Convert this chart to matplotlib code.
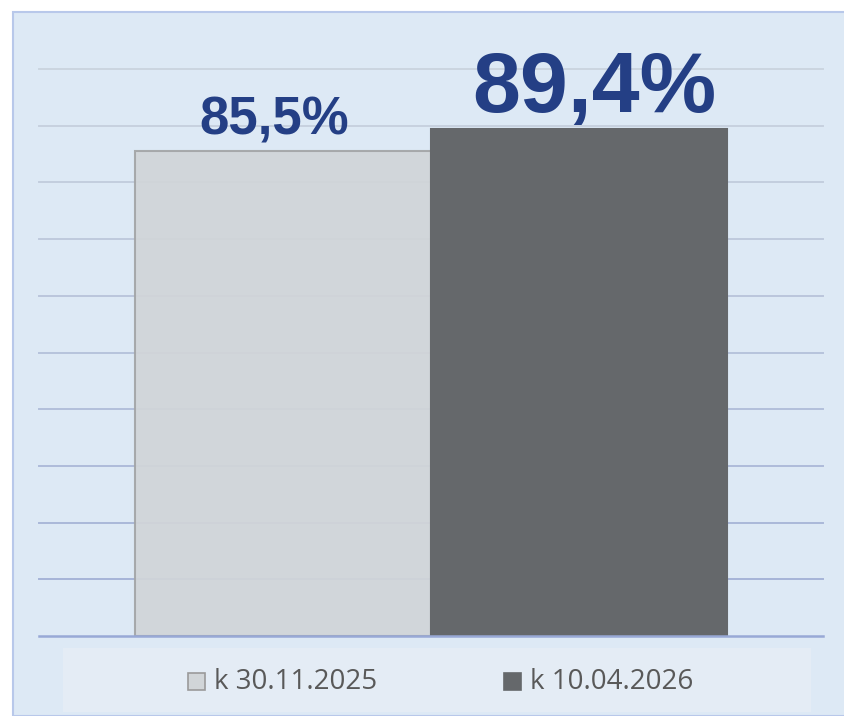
import matplotlib.pyplot as plt
import matplotlib.patches as mpatches
import numpy as np

#----Data

series = ["k 30.11.2025", "k 10.04.2026"]
values = [85.5, 89.4]
labels = ["85,5%", "89,4%"]
grid_levels = [10, 20, 30, 40, 50, 60, 70, 80, 90, 100]

#----Styles

bar_colors = ["#d1d5d8", "#65686b"]
bar_edges = ["#a3a5a7", "#65686b"]
bar_alpha = [0.93, 1.0]
label_sizes = [38, 62]
label_dx = [-9, 15]
label_dy = [17, 17]
panel_bg = "#dde9f5"
label_color = "#243f85"


def lerp_color(c1, c2, t):
    a = np.array([int(c1[i:i + 2], 16) for i in (1, 3, 5)])
    b = np.array([int(c2[i:i + 2], 16) for i in (1, 3, 5)])
    c = (a + (b - a) * t) / 255.0
    return tuple(c)


W, H = 845, 716
fig = plt.figure(figsize=(W / 100, H / 100), dpi=100)
fig.patch.set_facecolor("white")

# chart panel with border
panel = mpatches.Rectangle((13 / W, 0), 1.0, (H - 12) / H, transform=fig.transFigure,
                           facecolor=panel_bg, edgecolor="#b8c8ea", linewidth=1.5, zorder=-2)
fig.patches.append(panel)

# legend area
leg_bg = mpatches.Rectangle((63 / W, (H - 712) / H), (811 - 63) / W, (712 - 648) / H,
                            transform=fig.transFigure, facecolor="#e4ecf5",
                            edgecolor="none", zorder=-1)
fig.patches.append(leg_bg)

ax = fig.add_axes([39 / W, (H - 636) / H, (823 - 39) / W, (636 - 69) / H])
ax.set_facecolor("none")
ax.set_xlim(-0.5, 0.5)
ax.set_ylim(0, 100)

# gridlines fading from blue (bottom) to grey (top)
for i, g in enumerate(grid_levels):
    t = i / (len(grid_levels) - 1)
    ax.axhline(g, color=lerp_color("#a6b4d8", "#cbd5e0", t), linewidth=1.4,
               zorder=1, clip_on=False)
ax.axhline(0, color="#98a9d6", linewidth=1.8, zorder=4, clip_on=False)

width = 0.378
xs = [-width / 2, width / 2]
for x, v, fc, ec, al in zip(xs, values, bar_colors, bar_edges, bar_alpha):
    ax.bar(x, v, width, color=fc, edgecolor=ec, linewidth=1.5, zorder=2, alpha=al)

for x, v, lab, fs, dx, dy in zip(xs, values, labels, label_sizes, label_dx, label_dy):
    ax.annotate(lab, (x, v), xytext=(dx, dy), textcoords="offset pixels",
                ha="center", va="baseline", fontsize=fs, fontweight="bold",
                color=label_color, family="Liberation Sans", clip_on=False,
                annotation_clip=False)

for sp in ax.spines.values():
    sp.set_visible(False)
ax.set_xticks([])
ax.set_yticks([])

# legend entries
leg_x = [188, 504]
for lx, name, fc, ec in zip(leg_x, series, bar_colors, bar_edges):
    sq = mpatches.Rectangle((lx / W, (H - 690) / H), 17 / W, 17 / H,
                            transform=fig.transFigure, facecolor=fc,
                            edgecolor="#9a9a9a" if fc == bar_colors[0] else fc,
                            linewidth=1.2, zorder=3)
    fig.patches.append(sq)
    fig.text((lx + 26) / W, (H - 682) / H, name, fontsize=20, color="#595959",
             family="Open Sans", va="center", ha="left")

fig.savefig("out.png", dpi=100)
